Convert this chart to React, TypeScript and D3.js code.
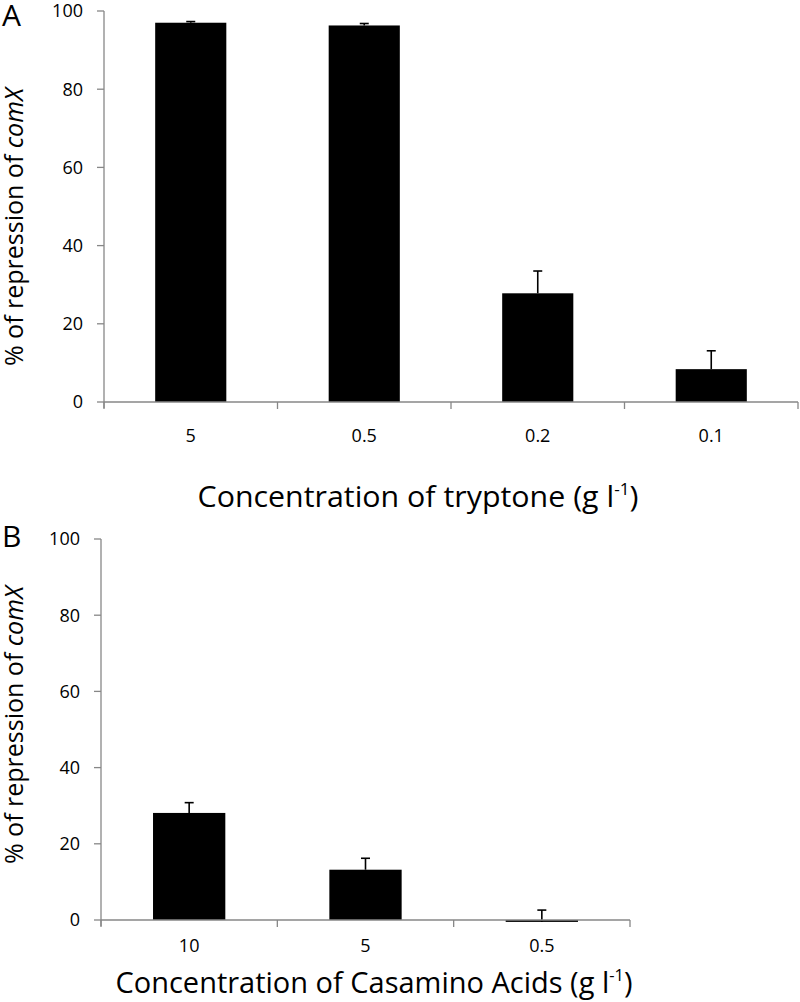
import React from "react";
import * as d3 from "d3";

const tryptoneCats = ["5", "0.5", "0.2", "0.1"];
const tryptoneVals = [97.0, 96.3, 27.8, 8.4];
const tryptoneErr = [0.3, 0.5, 5.7, 4.7];

const casCats = ["10", "5", "0.5"];
const casVals = [28.1, 13.2, -0.5];
const casErr = [2.7, 3.0, 3.1];

const yTicks = [0, 20, 40, 60, 80, 100];

const FONT = "'Open Sans', sans-serif";
const AXIS = "#878787";

type PanelProps = {
  cats: string[];
  vals: number[];
  errs: number[];
  x0: number;
  x1: number;
  yBottom: number;
  yTop: number;
  letter: string;
  letterY: number;
  title: string;
  titleX: number;
  titleY: number;
  titleLen: number;
  tickLabelY: number;
  yTitleCenter: number;
};

function Panel(p: PanelProps) {
  const x = d3.scaleBand<string>().domain(p.cats).range([p.x0, p.x1]).paddingInner(0.59).paddingOuter(0.295);
  const y = d3.scaleLinear().domain([0, 100]).range([p.yBottom, p.yTop]);
  const boundaries = p.cats.map((c) => (x(c) as number) - (x.step() * 0.59) / 2);
  boundaries.push(p.x1);
  return (
    <g>
      <text x={2} y={p.letterY} fontFamily={FONT} fontSize={30} fill="#000">{p.letter}</text>
      {p.cats.map((c, i) => {
        const v = p.vals[i];
        const top = y(Math.max(v, 0));
        const bot = y(Math.min(v, 0));
        return (
          <rect key={"b" + c} x={x(c)} y={top} width={x.bandwidth()} height={Math.max(bot - top, 0)} fill="#000" />
        );
      })}
      {p.cats.map((c, i) => {
        const cx = (x(c) as number) + x.bandwidth() / 2;
        const v = p.vals[i];
        const e = p.vals[i] + p.errs[i];
        return (
          <g key={"e" + c} stroke="#000" strokeWidth={1.6}>
            <line x1={cx} x2={cx} y1={y(v)} y2={y(e)} />
            <line x1={cx - 4.5} x2={cx + 4.5} y1={y(e)} y2={y(e)} />
          </g>
        );
      })}
      <line x1={p.x0} x2={p.x0} y1={y(100)} y2={y(0) + 6} stroke={AXIS} strokeWidth={1.3} />
      {yTicks.map((t) => (
        <g key={"yt" + t}>
          <line x1={p.x0 - 7} x2={p.x0} y1={y(t)} y2={y(t)} stroke={AXIS} strokeWidth={1.3} />
          <text x={p.x0 - 21} y={y(t)} dy="0.36em" textAnchor="end" fontFamily={FONT} fontSize={18} fill="#000">{t}</text>
        </g>
      ))}
      <line x1={p.x0} x2={p.x1} y1={y(0)} y2={y(0)} stroke={AXIS} strokeWidth={1.3} />
      {boundaries.map((b, i) => (
        <line key={"xt" + i} x1={b} x2={b} y1={y(0)} y2={y(0) + 7} stroke={AXIS} strokeWidth={1.3} />
      ))}
      {p.cats.map((c) => (
        <text key={"xl" + c} x={(x(c) as number) + x.bandwidth() / 2} y={p.tickLabelY} dy="0.36em" textAnchor="middle" fontFamily={FONT} fontSize={18} fill="#000">{c}</text>
      ))}
      <text x={p.titleX} y={p.titleY} textAnchor="middle" fontFamily={FONT} fontSize={30} fill="#000" textLength={p.titleLen} lengthAdjust="spacingAndGlyphs">
        {p.title}
        <tspan fontSize={17} dy={-12}>-1</tspan>
        <tspan dy={12}>)</tspan>
      </text>
      <text transform={`translate(23,${p.yTitleCenter}) rotate(-90)`} textAnchor="middle" fontFamily={FONT} fontSize={25} fill="#000">
        % of repression of <tspan fontStyle="italic">comX</tspan>
      </text>
    </g>
  );
}

export default function App() {
  return (
    <svg width={800} height={1002} style={{ position: "absolute", left: 0, top: 0, background: "#fff" }}>
      <rect x={0} y={0} width={800} height={1002} fill="#fff" />
      <Panel
        cats={tryptoneCats}
        vals={tryptoneVals}
        errs={tryptoneErr}
        x0={104}
        x1={798}
        yBottom={402}
        yTop={11}
        letter="A"
        letterY={26}
        title="Concentration of tryptone (g l"
        titleX={418}
        titleY={507}
        titleLen={441}
        tickLabelY={436}
        yTitleCenter={227}
      />
      <Panel
        cats={casCats}
        vals={casVals}
        errs={casErr}
        x0={101}
        x1={630}
        yBottom={920}
        yTop={539}
        letter="B"
        letterY={547}
        title="Concentration of Casamino Acids (g l"
        titleX={374}
        titleY={993}
        titleLen={517}
        tickLabelY={946}
        yTitleCenter={725}
      />
    </svg>
  );
}
